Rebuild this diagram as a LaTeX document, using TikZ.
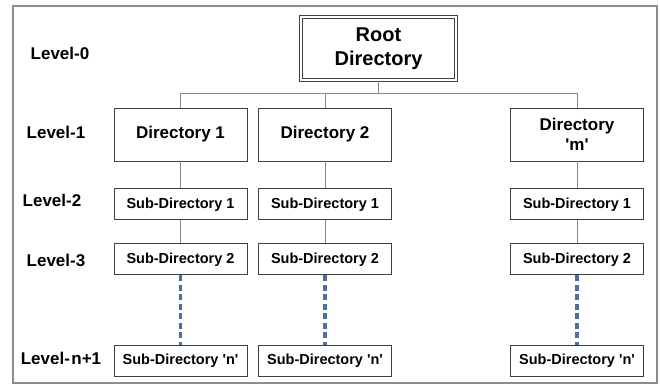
\documentclass[tikz,border=0pt]{standalone}
\usepackage{fontspec}
\setmainfont{Liberation Sans}
\usetikzlibrary{positioning}
\definecolor{framegray}{HTML}{8C8C8C}
\definecolor{linegray}{HTML}{8A8A8A}
\definecolor{dashblue}{HTML}{4A6FA8}

\begin{document}
\begin{tikzpicture}[x=1pt, y=-1pt,
                dirbox/.style={draw=black!75, line width=0.9pt, fill=white,
                  minimum width=133pt, inner sep=2pt, align=center,
                  font=\bfseries\fontsize{17}{19}\selectfont},
                topbox/.style={dirbox, minimum height=53pt},
                subbox/.style={dirbox, minimum height=31pt,
                  font=\bfseries\fontsize{14.5}{16}\selectfont},
                rootbox/.style={draw=black!75, line width=0.9pt, double,
                  double distance=2pt, fill=white, align=center,
                  minimum width=155pt, minimum height=63pt,
                  font=\bfseries\fontsize{20}{24}\selectfont},
                level/.style={font=\bfseries\fontsize{17}{19}\selectfont},
                link/.style={draw=linegray, line width=0.7pt},
                dots/.style={draw=dashblue, line width=3.2pt,
                  dash pattern=on 6pt off 3.5pt}
                ]
                \useasboundingbox (0,0) rectangle (660,385);
                \draw[framegray, line width=1.6pt] (13,6) rectangle (657,383);

                % the root and the first level
                \node [rootbox] (root) at (378.5,48.5) {Root\\Directory};
                \node [topbox] (d1) at (180.5,134.5) {Directory 1};
                \node [topbox] (d2) at (325,134.5) {Directory 2};
                \node [topbox, font=\bfseries\fontsize{17}{20}\selectfont] (dm) at (577,134.5)
                  {Directory\\\textquotesingle m\textquotesingle};

                % sub-directories under each directory
                \node [subbox, below=27pt of d1] (d1s1) {Sub-Directory 1};
                \node [subbox, below=23pt of d1s1] (d1s2) {Sub-Directory 2};
                \node [subbox, below=70pt of d1s2] (d1sn) {Sub-Directory \textquotesingle n\textquotesingle};
                \node [subbox, below=27pt of d2] (d2s1) {Sub-Directory 1};
                \node [subbox, below=23pt of d2s1] (d2s2) {Sub-Directory 2};
                \node [subbox, below=70pt of d2s2] (d2sn) {Sub-Directory \textquotesingle n\textquotesingle};
                \node [subbox, below=27pt of dm] (dms1) {Sub-Directory 1};
                \node [subbox, below=23pt of dms1] (dms2) {Sub-Directory 2};
                \node [subbox, below=70pt of dms2] (dmsn) {Sub-Directory \textquotesingle n\textquotesingle};

                % level names on the left
                \node [level] (l0) at (60,53) {Level-0};
                \node [level] (l1) at (56,132) {Level-1};
                \node [level] (l2) at (52,200) {Level-2};
                \node [level] (l3) at (56,260) {Level-3};
                \node [level] (ln) at (61,358) {Level-\kern1.5pt n+1};

                % connectors
                \draw [link, shorten <=1pt] (root.south) -- ++(0,13) coordinate (bus);
                \draw [link] (d1.north) |- (bus) -| (dm.north);
                \draw [link] (d2.north) -- (d2.north |- bus);
                \foreach \c in {d1,d2,dm} {
                  \draw [link] (\c.south) -- (\c s1.north);
                  \draw [link] (\c s1.south) -- (\c s2.north);
                  \draw [dots] (\c s2.south) -- (\c sn.north);
                }
\end{tikzpicture}
\end{document}
